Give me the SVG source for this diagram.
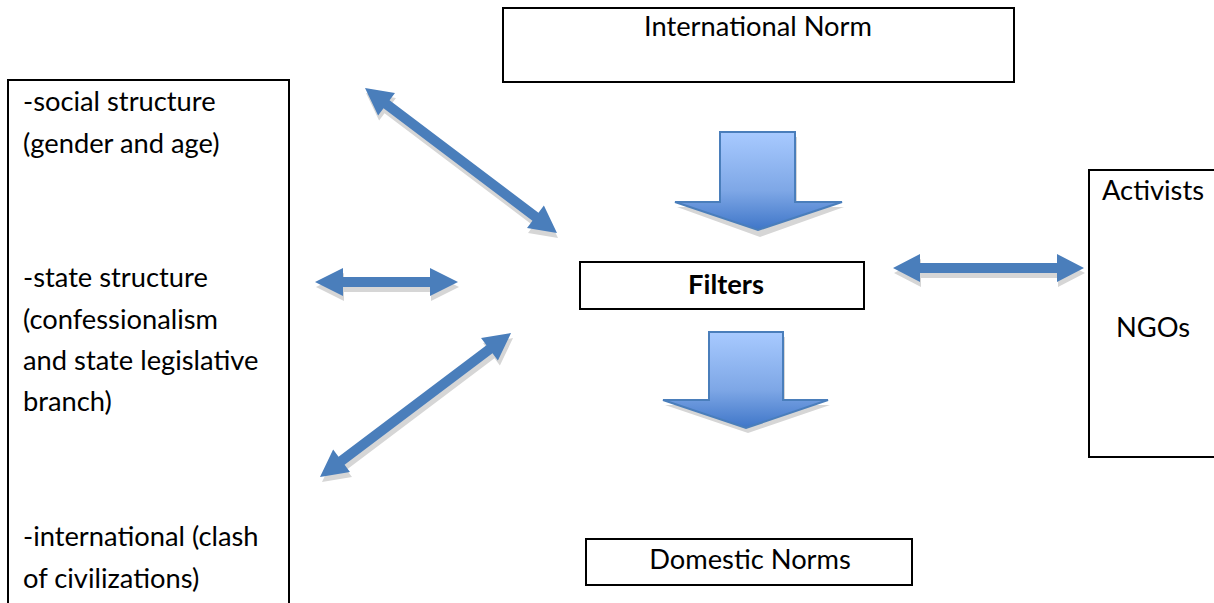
<svg xmlns="http://www.w3.org/2000/svg" width="1214" height="603" viewBox="0 0 1214 603">
<style>
.box{fill:#fff;stroke:#000;stroke-width:2}
.t{font-family:Lato,"Open Sans","Liberation Sans",sans-serif;font-size:27.3px;fill:#000}
.c{text-anchor:middle}
.da{fill:#4a7ebb}
.sh{fill:#d6d6d6}
.dn{fill:url(#g);stroke:#4a7ebb;stroke-width:2}
</style>
<defs>
<linearGradient id="g" x1="0" y1="0" x2="0" y2="1">
<stop offset="0" stop-color="#a8caff"/>
<stop offset="0.6" stop-color="#7ea7e6"/>
<stop offset="1" stop-color="#3f76c8"/>
</linearGradient>
</defs>
<g id="social-box">
<rect class="box" x="8" y="80" width="281" height="540"/>
<text class="t" x="23" y="111">-social structure</text>
<text class="t" x="23" y="153">(gender and age)</text>
<text class="t" x="23" y="287">-state structure</text>
<text class="t" x="23" y="329">(confessionalism</text>
<text class="t" x="23" y="370">and state legislative</text>
<text class="t" x="23" y="411">branch)</text>
<text class="t" x="23" y="546">-international (clash</text>
<text class="t" x="23" y="588">of civilizations)</text>
</g>
<g id="international-norm">
<rect class="box" x="503" y="8" width="511" height="74"/>
<text class="t c" x="758" y="36">International Norm</text>
</g>
<g id="filters">
<rect class="box" x="580" y="262" width="284" height="47"/>
<text class="t c" x="726" y="294" font-weight="bold">Filters</text>
</g>
<g id="domestic-norms">
<rect class="box" x="586" y="539" width="326" height="46"/>
<text class="t c" x="750" y="569">Domestic Norms</text>
</g>
<g id="activists-ngos">
<rect class="box" x="1089" y="170" width="140" height="287"/>
<text class="t c" x="1153" y="200">Activists</text>
<text class="t c" x="1153" y="337">NGOs</text>
</g>
<g id="connectors">
<g>
<polygon class="sh" transform="translate(2,5)" points="675,202 720,202 720,132 795,132 795,202 842,202 758,232"/>
<polygon class="dn" points="675,202 720,202 720,132 795,132 795,202 842,202 758,230"/>
</g>
<g>
<polygon class="sh" transform="translate(2,5)" points="663,400 709,400 709,332 783,332 783,400 828,400 746,428"/>
<polygon class="dn" points="663,400 709,400 709,332 783,332 783,400 828,400 746,428"/>
</g>
<g transform="translate(365,88) rotate(37.06)">
<polygon class="sh" transform="rotate(-37.06) translate(1,5) rotate(37.06)" points="0,0 27,-14 27,-5 213.6,-5 213.6,-14 240.6,0 213.6,14 213.6,5 27,5 27,14"/>
<polygon class="da" points="0,0 27,-14 27,-5 213.6,-5 213.6,-14 240.6,0 213.6,14 213.6,5 27,5 27,14"/>
</g>
<g transform="translate(315,282)">
<polygon class="sh" transform="translate(1,5)" points="0,0 28,-14 28,-5 115,-5 115,-14 143,0 115,14 115,5 28,5 28,14"/>
<polygon class="da" points="0,0 28,-14 28,-5 115,-5 115,-14 143,0 115,14 115,5 28,5 28,14"/>
</g>
<g transform="translate(320,477) rotate(-37.0)">
<polygon class="sh" transform="rotate(37) translate(2,5) rotate(-37)" points="0,0 27,-14 27,-5 212.2,-5 212.2,-14 239.2,0 212.2,14 212.2,5 27,5 27,14"/>
<polygon class="da" points="0,0 27,-14 27,-5 212.2,-5 212.2,-14 239.2,0 212.2,14 212.2,5 27,5 27,14"/>
</g>
<g transform="translate(893,268)">
<polygon class="sh" transform="translate(1,5)" points="0,0 27,-14 27,-5 164,-5 164,-14 191,0 164,14 164,5 27,5 27,14"/>
<polygon class="da" points="0,0 27,-14 27,-5 164,-5 164,-14 191,0 164,14 164,5 27,5 27,14"/>
</g>
</g>
</svg>
